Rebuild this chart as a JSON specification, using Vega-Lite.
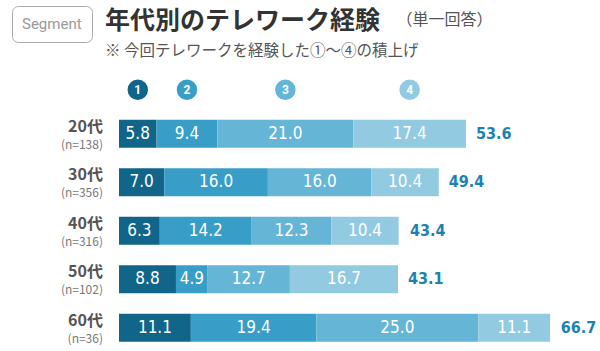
{
  "$schema": "https://vega.github.io/schema/vega-lite/v6.json",
  "width": 479,
  "height": 291,
  "autosize": {"type": "none"},
  "padding": {"left": 119, "top": 61, "right": 2, "bottom": 0},
  "background": "white",
  "config": {"view": {"stroke": null}},
  "title": {
    "text": "年代別のテレワーク経験",
    "subtitle": "※ 今回テレワークを経験した①〜④の積上げ",
    "anchor": "start",
    "frame": "group",
    "dx": -14,
    "dy": 54,
    "offset": 0,
    "font": "Noto Sans CJK JP",
    "fontSize": 25,
    "fontWeight": "bold",
    "color": "#333333",
    "subtitleFont": "Noto Sans CJK JP",
    "subtitleFontSize": 15.5,
    "subtitleColor": "#555555",
    "subtitlePadding": 10
  },
  "datasets": {
    "shares": [
      {"age": "20代", "seg": "1", "pct": 5.8},
      {"age": "20代", "seg": "2", "pct": 9.4},
      {"age": "20代", "seg": "3", "pct": 21.0},
      {"age": "20代", "seg": "4", "pct": 17.4},
      {"age": "30代", "seg": "1", "pct": 7.0},
      {"age": "30代", "seg": "2", "pct": 16.0},
      {"age": "30代", "seg": "3", "pct": 16.0},
      {"age": "30代", "seg": "4", "pct": 10.4},
      {"age": "40代", "seg": "1", "pct": 6.3},
      {"age": "40代", "seg": "2", "pct": 14.2},
      {"age": "40代", "seg": "3", "pct": 12.3},
      {"age": "40代", "seg": "4", "pct": 10.4},
      {"age": "50代", "seg": "1", "pct": 8.8},
      {"age": "50代", "seg": "2", "pct": 4.9},
      {"age": "50代", "seg": "3", "pct": 12.7},
      {"age": "50代", "seg": "4", "pct": 16.7},
      {"age": "60代", "seg": "1", "pct": 11.1},
      {"age": "60代", "seg": "2", "pct": 19.4},
      {"age": "60代", "seg": "3", "pct": 25.0},
      {"age": "60代", "seg": "4", "pct": 11.1}
    ],
    "totals": [
      {"age": "20代", "nLabel": "(n=138)", "total": 53.6},
      {"age": "30代", "nLabel": "(n=356)", "total": 49.4},
      {"age": "40代", "nLabel": "(n=316)", "total": 43.4},
      {"age": "50代", "nLabel": "(n=102)", "total": 43.1},
      {"age": "60代", "nLabel": "(n=36)", "total": 66.7}
    ]
  },
  "layer": [
    {
      "data": {"name": "shares"},
      "mark": {"type": "bar"},
      "encoding": {
        "x": {
          "field": "pct", "type": "quantitative", "stack": "zero",
          "scale": {"domain": [0, 74], "nice": false},
          "axis": {
            "orient": "top", "labels": false, "ticks": false, "domain": false, "grid": false,
            "title": "（単一回答）", "titleX": 277, "titleY": -37, "titleAlign": "left",
            "titleBaseline": "alphabetic", "titleFont": "Noto Sans CJK JP", "titleFontSize": 16,
            "titleFontWeight": "normal", "titleColor": "#555555"
          }
        },
        "y": {
          "field": "age", "type": "nominal",
          "scale": {"domain": ["凡例", "20代", "30代", "40代", "50代", "60代"], "paddingInner": 0.42, "paddingOuter": 0.21},
          "axis": null
        },
        "color": {
          "field": "seg", "type": "nominal",
          "scale": {"domain": ["1", "2", "3", "4"], "range": ["#116588", "#389ec8", "#65b5d6", "#92cae1"]},
          "legend": null
        },
        "order": {"field": "seg", "type": "ordinal"}
      }
    },
    {
      "data": {"name": "shares"},
      "mark": {"type": "text", "font": "DejaVu Sans Condensed, Roboto", "fontSize": 17, "color": "white", "align": "center", "baseline": "middle"},
      "encoding": {
        "x": {"field": "pct", "type": "quantitative", "stack": "zero", "bandPosition": 0.5},
        "y": {"field": "age", "type": "nominal"},
        "detail": {"field": "seg", "type": "nominal"},
        "order": {"field": "seg", "type": "ordinal"},
        "text": {"field": "pct", "type": "quantitative", "format": ".1f"}
      }
    },
    {
      "data": {"name": "totals"},
      "mark": {"type": "text", "font": "DejaVu Sans Condensed, Roboto", "fontSize": 16, "fontWeight": "bold", "color": "#1b82b2", "align": "left", "baseline": "middle", "dx": 10},
      "encoding": {
        "x": {"field": "total", "type": "quantitative"},
        "y": {"field": "age", "type": "nominal"},
        "text": {"field": "total", "type": "quantitative", "format": ".1f"}
      }
    },
    {
      "data": {"name": "totals"},
      "mark": {"type": "text", "font": "Noto Sans CJK JP", "fontSize": 16, "fontWeight": "bold", "color": "#555555", "align": "right", "baseline": "middle", "dx": -16, "dy": -7},
      "encoding": {
        "x": {"datum": 0, "type": "quantitative"},
        "y": {"field": "age", "type": "nominal"},
        "text": {"field": "age", "type": "nominal"}
      }
    },
    {
      "data": {"name": "totals"},
      "mark": {"type": "text", "font": "Noto Sans CJK JP", "fontSize": 12, "color": "#777777", "align": "right", "baseline": "middle", "dx": -16, "dy": 11},
      "encoding": {
        "x": {"datum": 0, "type": "quantitative"},
        "y": {"field": "age", "type": "nominal"},
        "text": {"field": "nLabel", "type": "nominal"}
      }
    },
    {
      "data": {"name": "shares"},
      "transform": [{"filter": "datum.age === '20代'"}],
      "mark": {"type": "point", "filled": true, "opacity": 1, "yOffset": 4.5},
      "encoding": {
        "x": {"field": "pct", "type": "quantitative", "stack": "zero", "bandPosition": 0.5},
        "y": {"datum": "凡例", "type": "nominal"},
        "color": {"field": "seg", "type": "nominal"},
        "order": {"field": "seg", "type": "ordinal"},
        "size": {"value": 420},
        "shape": {
          "datum": "Segment", "type": "nominal",
          "scale": {"range": ["circle"]},
          "legend": {
            "orient": "none", "legendX": -107, "legendY": -55, "title": null,
            "strokeColor": "#aaaaaa", "cornerRadius": 6, "padding": 10,
            "symbolSize": 0, "symbolOpacity": 0, "symbolStrokeWidth": 0, "labelOffset": -15,
            "labelFont": "Roboto", "labelFontSize": 15, "labelColor": "#999999",
            "encode": {"symbols": {"update": {"size": {"value": 0}, "opacity": {"value": 0}}}}
          }
        }
      }
    },
    {
      "data": {"name": "shares"},
      "transform": [{"filter": "datum.age === '20代'"}],
      "mark": {"type": "text", "font": "Roboto", "fontSize": 12, "fontWeight": "bold", "color": "white", "align": "center", "baseline": "middle", "yOffset": 4.5},
      "encoding": {
        "x": {"field": "pct", "type": "quantitative", "stack": "zero", "bandPosition": 0.5},
        "y": {"datum": "凡例", "type": "nominal"},
        "detail": {"field": "seg", "type": "nominal"},
        "order": {"field": "seg", "type": "ordinal"},
        "text": {"field": "seg", "type": "nominal"}
      }
    }
  ]
}
